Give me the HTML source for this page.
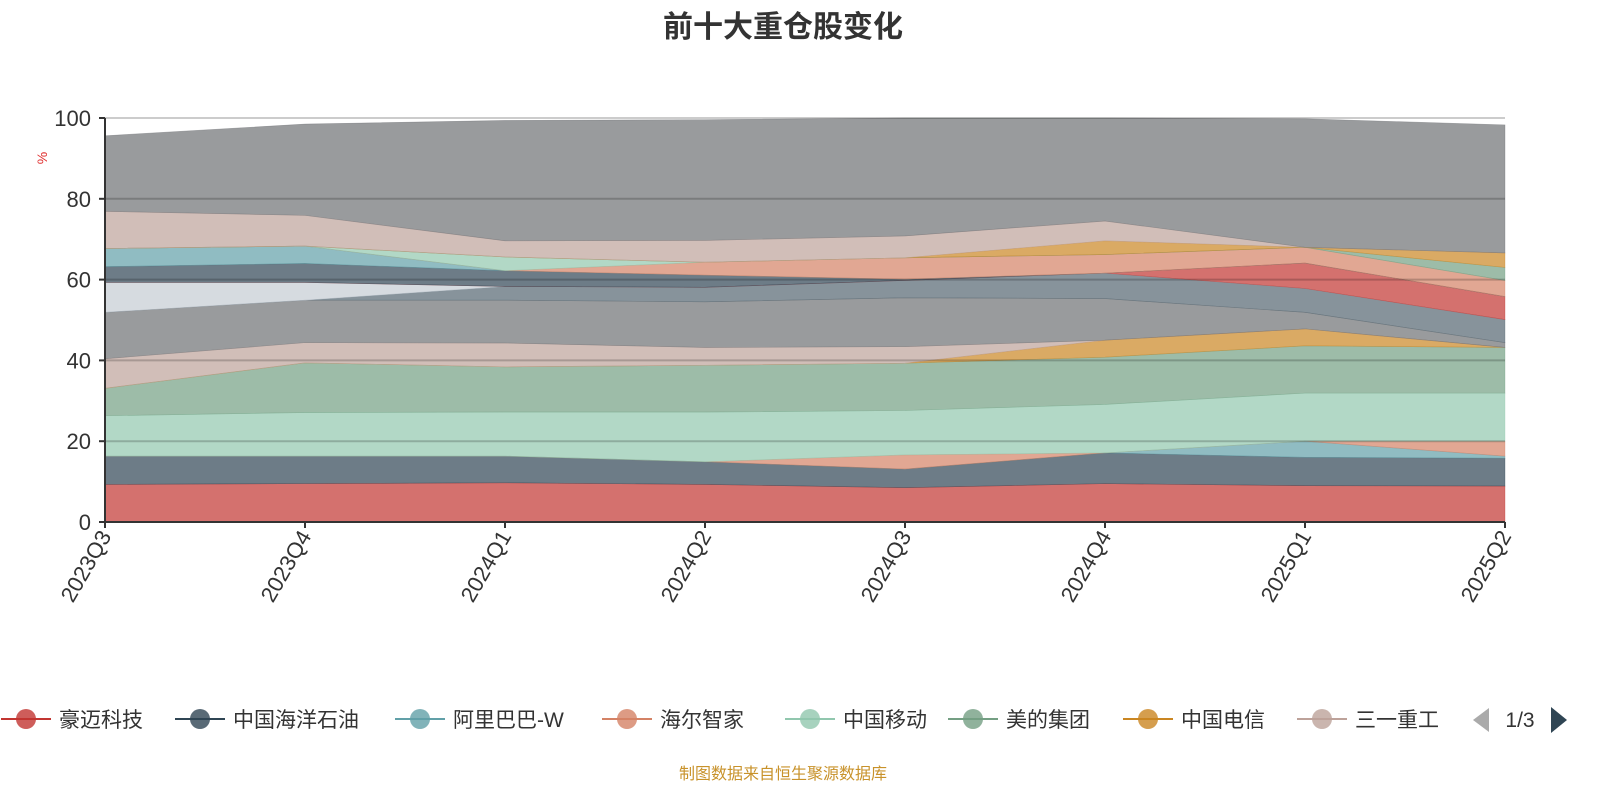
<!DOCTYPE html>
<html><head><meta charset="utf-8"><style>
body{margin:0;background:#fff;width:1600px;height:800px;overflow:hidden;font-family:"Liberation Sans","Noto Sans CJK SC",sans-serif}
</style></head><body>
<svg id="chart" width="1600" height="800" xmlns="http://www.w3.org/2000/svg" font-family="Liberation Sans, Noto Sans CJK SC, sans-serif">
<text x="783" y="37" text-anchor="middle" font-size="30" font-weight="bold" fill="#333">前十大重仓股变化</text>
<g id="areas"></g>
<g id="grid"></g>
<g id="axes"></g>
<text transform="translate(47,158) rotate(-90)" text-anchor="middle" font-size="14" fill="#e03030">%</text>
<g id="legend"></g>
<text x="783" y="779" text-anchor="middle" font-size="16" fill="#c8922a">制图数据来自恒生聚源数据库</text>
</svg>
<script>
const categories=["2023Q3","2023Q4","2024Q1","2024Q2","2024Q3","2024Q4","2025Q1","2025Q2"];
const yTicks=[0,20,40,60,80,100];
const seriesNames=["豪迈科技","中国海洋石油","阿里巴巴-W","海尔智家","中国移动","美的集团","中国电信","三一重工","s9","s10","s11","s12","s13","s14","s15","s16","s17","s18","s19","s20"];
const s1=[9.3,9.5,9.7,9.3,8.5,9.5,9.0,8.9];
const s2=[7.0,6.8,6.6,5.6,4.6,7.6,7.0,6.9];
const s3=[0,0,0,0,0,0,4.0,0.5];
const s4=[0,0,0,0,3.5,0,0,3.7];
const s5=[10.0,10.8,10.9,12.3,11.0,12.0,11.9,11.9];
const s6=[6.8,12.3,11.2,11.6,11.7,11.7,11.7,11.3];
const s7=[0,0,0,0,0,4.2,4.2,0];
const s8=[7.3,5.0,5.9,4.4,4.1,0,0,0];
const s9=[11.5,10.5,10.6,11.3,12.1,10.3,4.1,1.2];
const s10=[0,0,3.4,3.6,4.3,6.3,5.9,5.7];
const s11=[7.4,4.4,0,0,0,0,0,0];
const s12=[0,0,0,0,0,0,6.3,5.7];
const s13=[3.9,4.7,3.9,3.0,0.3,0,0,0];
const s14=[4.5,4.3,0,0,0,0,0,0];
const s15=[0,0,0,3.2,5.3,4.6,3.9,4.0];
const s16=[0,0,3.4,0,0,0,0,0];
const s17=[0,0,0,0,0,0,0,3.2];
const s18=[0,0,0,0,0,3.4,0,3.6];
const s19=[9.2,7.6,4.0,5.4,5.4,4.9,0,0];
const s20=[18.7,22.6,29.8,29.9,29.2,25.5,31.8,31.7];
const seriesValues=[s1,s2,s3,s4,s5,s6,s7,s8,s9,s10,s11,s12,s13,s14,s15,s16,s17,s18,s19,s20];
const palette=["#c23531","#2f4554","#61a0a8","#d48265","#91c7ae","#749f83","#ca8622","#bda29a","#6e7074","#546570","#c4ccd3"];
const NS="http://www.w3.org/2000/svg";
const X0=105,X1=1505,Y0=522,Y1=118;
function xs(i){return X0+i*(X1-X0)/(categories.length-1);}
function ys(v){return Y0-(v/100)*(Y0-Y1);}
function mk(t,a,p){const e=document.createElementNS(NS,t);for(const k in a)e.setAttribute(k,a[k]);p.appendChild(e);return e;}
const areas=document.getElementById('areas');
let base=categories.map(()=>0);
seriesValues.forEach((vals,si)=>{
  const top=vals.map((v,i)=>base[i]+v);
  let d="";
  top.forEach((v,i)=>{d+=(i?"L":"M")+xs(i)+","+ys(v);});
  for(let i=categories.length-1;i>=0;i--)d+="L"+xs(i)+","+ys(base[i]);
  d+="Z";
  const c=palette[si%palette.length];
  const p=mk('path',{d:d,fill:c,'fill-opacity':0.7,stroke:c,'stroke-width':0.6,'stroke-opacity':0.5},areas);
  
  
  base=top;
});
const grid=document.getElementById('grid');
yTicks.forEach(t=>{
  if(t===0)return;
  const l=mk('line',{x1:X0,x2:X1,y1:ys(t),y2:ys(t),stroke:'rgba(0,0,0,0.2)','stroke-width':2},grid);
  
  
});
const axes=document.getElementById('axes');
mk('line',{x1:X0,x2:X0,y1:Y1,y2:Y0,stroke:'#333','stroke-width':2},axes);
mk('line',{x1:X0,x2:X1,y1:Y0,y2:Y0,stroke:'#333','stroke-width':2},axes);
yTicks.forEach(t=>{
  mk('line',{x1:X0-6,x2:X0,y1:ys(t),y2:ys(t),stroke:'#333','stroke-width':2},axes);
  const tx=mk('text',{x:X0-14,y:ys(t)+8,'text-anchor':'end','font-size':22,fill:'#333'},axes);
  tx.textContent=t;
  
  
});
categories.forEach((c,i)=>{
  mk('line',{x1:xs(i),x2:xs(i),y1:Y0,y2:Y0+6,stroke:'#333','stroke-width':2},axes);
  const tx=mk('text',{transform:'translate('+(xs(i)+7)+','+(Y0+14)+') rotate(-60)','text-anchor':'end','font-size':22,fill:'#333'},axes);
  tx.textContent=c;
  
  
});
const legend=document.getElementById('legend');
const legendX=[26,200,420,627,810,973,1148,1322];
for(let i=0;i<8;i++){
  const g=mk('g',{},legend);
  
  
  const cx=legendX[i],c=palette[i];
  mk('line',{x1:cx-25,x2:cx+25,y1:719,y2:719,stroke:c,'stroke-width':2},g);
  mk('circle',{cx:cx,cy:719,r:10,fill:c,'fill-opacity':0.8},g);
  const t=mk('text',{x:cx+33,y:727,'font-size':21,fill:'#333'},g);
  t.textContent=seriesNames[i];
}
const pl=mk('path',{d:'M1489,708 L1489,732 L1473,720 Z',fill:'#aaa'},legend);


const pt=mk('text',{x:1520,y:727,'text-anchor':'middle','font-size':21,fill:'#333'},legend);
pt.textContent='1/3';


const pn=mk('path',{d:'M1551,707 L1551,733 L1567,720 Z',fill:'#2f4554'},legend);


</script>
</body></html>
